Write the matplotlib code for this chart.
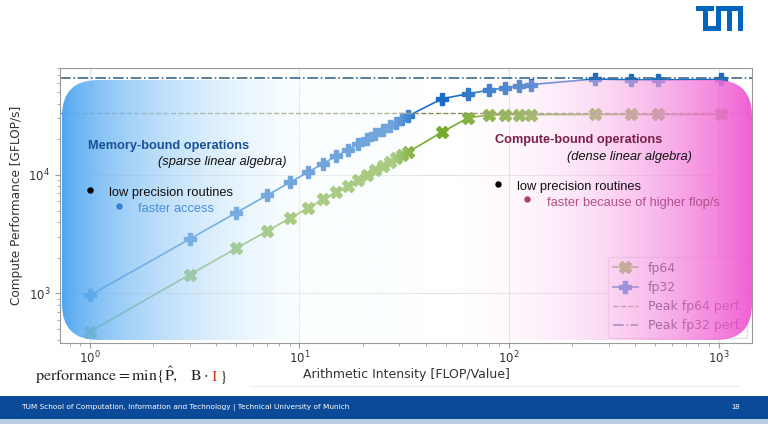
import numpy as np
import matplotlib
matplotlib.use("Agg")
import matplotlib.pyplot as plt
from matplotlib.patches import FancyBboxPatch, Rectangle

# data
intensity = [1, 3, 5, 7, 9, 11, 13, 15, 17, 19, 21, 23, 25, 27, 29, 31, 33,
             48, 64, 80, 96, 112, 128, 256, 384, 512, 1024]
fp32_perf = [960, 2880, 4800, 6720, 8640, 10560, 12480, 14400, 16300, 18200,
             20100, 22000, 23900, 25800, 27700, 29600, 31500,
             44000, 48500, 52000, 54500, 56500, 58000, 64500, 63500, 63500, 64000]
fp64_perf = [475, 1440, 2400, 3350, 4300, 5250, 6200, 7150, 8100, 9050,
             10000, 10950, 11900, 12850, 13800, 14700, 15600,
             23000, 30500, 32000, 32200, 32300, 32300, 32400, 32400, 32400, 32400]
peak_fp32 = 66000
peak_fp64 = 33500

W, H = 768, 424


def fx(x):
    return x / W


def fy(y):
    return 1 - y / H


plt.rcParams["mathtext.fontset"] = "stix"

fig = plt.figure(figsize=(7.68, 4.24), dpi=100)
fig.patch.set_facecolor("white")

ax = fig.add_axes([fx(60), fy(342.5), 692 / W, 274.5 / H])
ax.set_xscale("log")
ax.set_yscale("log")

ax.plot(intensity, fp64_perf, color="#78aa30", marker="X", markersize=9,
        lw=1.2, label="fp64")
ax.plot(intensity, fp32_perf, color="#1a6cc4", marker="P", markersize=9,
        lw=1.2, label="fp32")
ax.axhline(peak_fp64, color="#8a8c5a", ls="--", lw=1.0, label="Peak fp64 perf.")
ax.axhline(peak_fp32, color="#3d6a8e", ls="-.", lw=1.2, label="Peak fp32 perf.")

ax.set_xlim(0.72, 1445)
ax.set_ylim(384, 8.0e4)
ax.grid(True, which="major", color="#e2e2e2", lw=0.8)
for s in ax.spines.values():
    s.set_color("#9a9a9a")
    s.set_linewidth(0.8)
ax.tick_params(which="both", colors="#9a9a9a", labelcolor="#333333",
               labelsize=8.5)
ax.tick_params(axis="x", pad=1.5)
ax.set_xlabel("Arithmetic Intensity [FLOP/Value]", fontsize=9,
              color="#333333", labelpad=1.5)
ax.set_ylabel("Compute Performance [GFLOP/s]", fontsize=8.7, color="#333333")
leg = ax.legend(loc="lower right", fontsize=9, framealpha=0.9,
                borderaxespad=0.4)
leg.get_frame().set_edgecolor("#dddddd")

# gradient overlay (blue on the left, pink on the right)
bx0, bx1, by0, by1 = 62, 752, 80, 340
bw, bh = bx1 - bx0, by1 - by0
ov = fig.add_axes([fx(bx0), fy(by1), bw / W, bh / H], zorder=2)
ov.set_xlim(0, bw)
ov.set_ylim(0, bh)
ov.axis("off")

t = np.linspace(0, 1, 800)
rgba = np.zeros((1, t.size, 4))
blue = np.array([75, 163, 240]) / 255
pale = np.array([244, 253, 255]) / 255
pink0 = np.array([255, 240, 249]) / 255
pink1 = np.array([240, 88, 210]) / 255
for i, tt in enumerate(t):
    if tt < 0.52:
        s = min(tt / 0.34, 1.0)
        c = blue + (pale - blue) * s ** 0.8
        a = 0.98 - 0.58 * s ** 0.8
        if tt > 0.48:
            a *= (0.52 - tt) / 0.04
    elif tt > 0.58:
        g = (tt - 0.58) / 0.42
        c = pink0 + (pink1 - pink0) * g ** 1.4
        a = 0.08 + 0.87 * g ** 0.9
    else:
        c = pale
        a = 0.0
    rgba[0, i, :3] = c
    rgba[0, i, 3] = a
im = ov.imshow(rgba, extent=(0, bw, 0, bh), aspect="auto",
               interpolation="bilinear")
clip = FancyBboxPatch((0, 0), bw, bh, boxstyle="round,pad=0,rounding_size=36",
                      transform=ov.transData, facecolor="none",
                      edgecolor="none")
ov.add_patch(clip)
im.set_clip_path(clip)

# annotations on top
tf = fig.transFigure
sans = "Liberation Sans"
fs = 9.3


def bullet(x, y, color):
    fig.add_artist(plt.Line2D([fx(x)], [fy(y)], marker="o", markersize=3.6,
                              color=color, lw=0, transform=tf, zorder=5))


fig.text(fx(88), fy(146), "Memory-bound operations", fontsize=9.2,
         fontweight="bold", color="#1a5296", family=sans, va="center",
         zorder=5)
fig.text(fx(158), fy(162), "(sparse linear algebra)", fontsize=fs,
         style="italic", color="#111111", family=sans, va="center", zorder=5)
bullet(90, 190, "black")
fig.text(fx(109), fy(193), "low precision routines", fontsize=fs,
         color="#111111", family=sans, va="center", zorder=5)
bullet(119, 206, "#3a7fd0")
fig.text(fx(138), fy(209), "faster access", fontsize=fs, color="#4a8fdc",
         family=sans, va="center", zorder=5)

fig.text(fx(495), fy(140), "Compute-bound operations", fontsize=9.2,
         fontweight="bold", color="#7a1f4a", family=sans, va="center",
         zorder=5)
fig.text(fx(567), fy(157), "(dense linear algebra)", fontsize=fs,
         style="italic", color="#111111", family=sans, va="center", zorder=5)
bullet(498, 184, "black")
fig.text(fx(517), fy(187), "low precision routines", fontsize=fs,
         color="#111111", family=sans, va="center", zorder=5)
bullet(527, 199, "#b04070")
fig.text(fx(547), fy(203), "faster because of higher flop/s", fontsize=fs,
         color="#b4508a", family=sans, va="center", zorder=5)

# formula under the plot, with a red I
r = fig.canvas.get_renderer()
fy_f = fy(381)
fsz = 11.5
t1 = fig.text(fx(35), fy_f,
              r"$\mathrm{performance} = \mathrm{min}\{\hat{\mathrm{P}},\quad \mathrm{B}\cdot$",
              fontsize=fsz, color="#222222", va="baseline", zorder=5)
e1 = t1.get_window_extent(r)
t2 = fig.text(e1.x1 / W + 2 / W, fy_f, r"$\mathrm{I}$", fontsize=fsz,
              color="#d23c1e", va="baseline", zorder=5)
e2 = t2.get_window_extent(r)
fig.text(e2.x1 / W + 1 / W, fy_f, r"$\}$", fontsize=fsz, color="#222222",
         va="baseline", zorder=5)

fig.add_artist(plt.Line2D([fx(250), fx(740)], [fy(386), fy(386)],
                          color="#ececec", lw=0.8, transform=tf))

# footer bar
fig.add_artist(Rectangle((0, fy(419)), 1, 23 / H, transform=tf,
                         facecolor="#0b4a98", edgecolor="none", zorder=4))
fig.add_artist(Rectangle((0, 0), 1, 5 / H, transform=tf,
                         facecolor="#b9cde3", edgecolor="none", zorder=4))
fig.text(fx(21), fy(407.5),
         "TUM School of Computation, Information and Technology | Technical University of Munich",
         fontsize=5.3, color="white", family="Liberation Sans Narrow",
         va="center", zorder=6)
fig.text(fx(740), fy(407.5), "18", fontsize=5.5, color="white", family=sans,
         va="center", ha="right", zorder=6)

# TUM logo
lg = fig.add_axes([fx(696), fy(31), 47 / W, 25 / H])
lg.set_xlim(0, 47)
lg.set_ylim(25, 0)
lg.axis("off")
logo_blue = "#0065bd"
bars = [(0, 0, 18, 5),      # T top
        (7, 0, 5, 25),      # T stem
        (7, 20, 18, 5),     # U bottom
        (20, 0, 5, 25),     # U right / M left
        (20, 0, 27, 5),     # M top
        (31, 0, 5, 25),     # M middle
        (42, 0, 5, 25)]     # M right
for (x, y, w, h) in bars:
    lg.add_patch(Rectangle((x, y), w, h, facecolor=logo_blue,
                           edgecolor="none"))

fig.savefig("out.png", dpi=100)
